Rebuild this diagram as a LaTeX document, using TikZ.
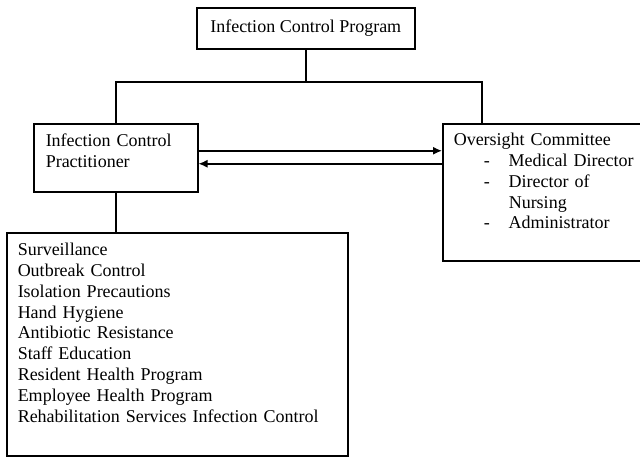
\documentclass[tikz,border=0pt]{standalone}
\usepackage{fontspec}
\setmainfont{Liberation Serif}
\usetikzlibrary{arrows.meta}
\begin{document}
\begin{tikzpicture}[x=1pt,y=-1pt]
			% Styles des cadres et des fleches
			\tikzset{ boite/.style={draw, line width=1.5pt, anchor=north west, align=left, inner ysep=0pt, font=\fontsize{18}{20.8}\selectfont},
				lien/.style={line width=1.5pt},
				fleche/.style={line width=1.5pt, -{Latex[length=9pt,width=8pt]}} }
			\useasboundingbox[fill=white] (0,0) rectangle (640,456);
			\node[boite, align=center, inner sep=0pt, minimum width=218pt, minimum height=41pt] (prog) at (196,7) {Infection Control Program};
			\node[boite, inner xsep=12pt, text width=140pt, text height=23pt, text depth=45pt] (icp) at (33,123)
			{Infection Control\\ Practitioner};
			\node[boite, inner xsep=11pt, text width=190pt, text height=22pt, text depth=115pt] (comite) at (442,123)
			{Oversight Committee\\
				\hspace*{30pt}\makebox[25pt][l]{-}Medical Director\\
				\hspace*{30pt}\makebox[25pt][l]{-}Director of\\
				\hspace*{55pt}Nursing\\
				\hspace*{30pt}\makebox[25pt][l]{-}Administrator};
			\node[boite, inner xsep=11pt, text width=319pt, text height=23pt, text depth=200pt] (taches) at (6,232)
			{Surveillance\\ Outbreak Control\\ Isolation Precautions\\ Hand Hygiene\\ Antibiotic Resistance\\
				Staff Education\\ Resident Health Program\\ Employee Health Program\\ Rehabilitation Services Infection Control};
			% Arborescence
			\coordinate (jonction) at (prog.south |- 0,82);
			\coordinate (branche) at (482,82);
			\draw[lien] (prog.south) -- (jonction);
			\draw[lien] (icp.north) |- (branche) -- (branche |- comite.north);
			\draw[lien] (icp.south) -- (icp.south |- taches.north);
			% Echanges entre praticien et comite
			\coordinate (aller) at ([yshift=7pt]icp.east);
			\coordinate (retour) at ([yshift=-6pt]icp.east);
			\draw[fleche] (aller) -- (aller -| comite.west);
			\draw[fleche] (retour -| comite.west) -- (retour);
\end{tikzpicture}
\end{document}
